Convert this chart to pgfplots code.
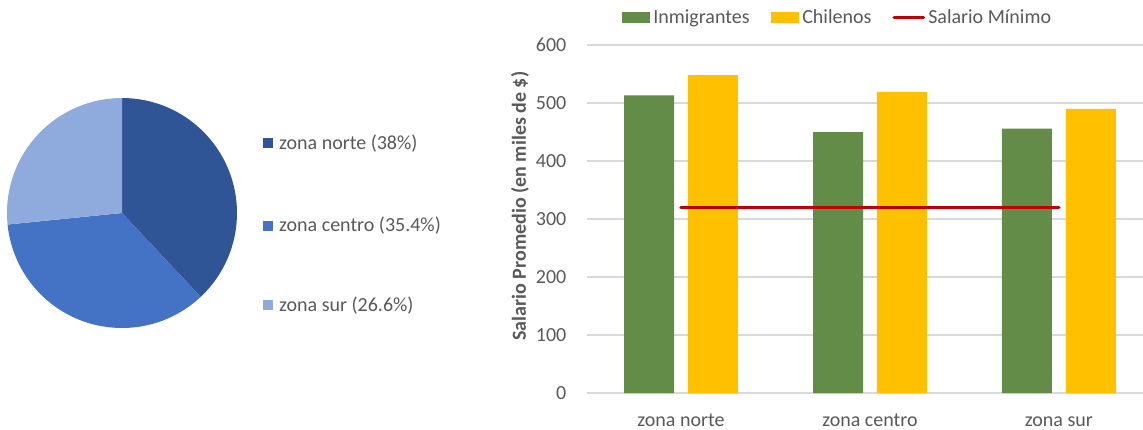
\documentclass[border=0pt]{standalone}
\usepackage{pgfplots}
\pgfplotsset{compat=1.18}
\usepackage{pgfplotstable}
\usepackage{fontspec}
\setmainfont{Carlito}
\definecolor{txt}{HTML}{595959}
\definecolor{gridc}{HTML}{D9D9D9}
\definecolor{inm}{HTML}{638C48}
\definecolor{chi}{HTML}{FFC000}
\definecolor{sal}{HTML}{C00000}
\definecolor{pnorte}{HTML}{2F5597}
\definecolor{pcentro}{HTML}{4472C4}
\definecolor{psur}{HTML}{8FAADC}

\pgfplotstableread{
x inm chi sal
0 513 548 320
1 450 519 320
2 456 490 320
}\salarios

% pie shares (percent)
\def\pnorte{38}
\def\pcentro{35.4}
\def\psur{26.6}

\begin{document}
\begin{tikzpicture}[font=\fontsize{20}{24}\selectfont,text=txt]
\useasboundingbox (0pt,0pt) rectangle (1143pt,-429pt);
\pgfmathsetmacro\aA{90}
\pgfmathsetmacro\aB{90-3.6*\pnorte}
\pgfmathsetmacro\aC{\aB-3.6*\pcentro}
\pgfmathsetmacro\aD{\aC-3.6*\psur}
% ---------- pie ----------
\begin{axis}[at={(122pt,-213pt)}, anchor=center, scale only axis,
  width=230pt, height=230pt, xmin=-115, xmax=115, ymin=-115, ymax=115,
  hide axis, clip=false]
\fill[pnorte] (axis cs:0,0) -- (axis cs:{115*cos(\aA)},{115*sin(\aA)})
   arc[start angle=\aA, end angle=\aB, radius=115pt] -- cycle;
\fill[pcentro] (axis cs:0,0) -- (axis cs:{115*cos(\aB)},{115*sin(\aB)})
   arc[start angle=\aB, end angle=\aC, radius=115pt] -- cycle;
\fill[psur] (axis cs:0,0) -- (axis cs:{115*cos(\aC)},{115*sin(\aC)})
   arc[start angle=\aC, end angle=\aD, radius=115pt] -- cycle;
\end{axis}
% pie legend
\fill[pnorte] (263pt,-138.3pt) rectangle (273pt,-148.3pt);
\node[anchor=base west, inner sep=0pt] at (279pt,-149.3pt) {zona norte (38\%)};
\fill[pcentro] (263pt,-220.5pt) rectangle (273pt,-230.5pt);
\node[anchor=base west, inner sep=0pt] at (279pt,-231.5pt) {zona centro (35.4\%)};
\fill[psur] (263pt,-300pt) rectangle (273pt,-310pt);
\node[anchor=base west, inner sep=0pt] at (279pt,-311pt) {zona sur (26.6\%)};
% ---------- bars ----------
\begin{axis}[at={(586.5pt,-393pt)}, anchor=south west, scale only axis,
  width=556.5pt, height=348pt,
  xmin=-0.5, xmax=2.445, ymin=0, ymax=600,
  ytick={0,100,...,600}, xtick={0,1,2},
  xticklabels={zona norte, zona centro, zona sur},
  ymajorgrids, grid style={gridc, line width=1.2pt},
  axis line style={draw=none}, major tick length=0pt,
  /pgf/number format/assume math mode=true,
  yticklabel style={anchor=east, inner sep=0pt, xshift=-20pt},
  xticklabel style={anchor=base, inner sep=0pt, yshift=-33pt},
  ylabel={\bfseries Salario Promedio (en miles de \$)},
  ylabel style={at={(axis description cs:-0.1195,0.537)}, anchor=center},
  legend style={at={(axis description cs:0.449,1.0790)}, anchor=center,
    draw=none, fill=none, legend columns=3,
    /tikz/every even column/.append style={column sep=21pt},
    /tikz/every odd column/.append style={column sep=3pt},
    nodes={inner sep=0pt, text=txt}},
  clip=false]
\addplot[ybar, bar width=0.2646, bar shift=-0.169, fill=inm, draw=none,
  legend image code/.code={\fill[inm] (0pt,-5.75pt) rectangle (28.7pt,5.75pt);}]
  table[x=x,y=inm]{\salarios};
\addlegendentry{Inmigrantes}
\addplot[ybar, bar width=0.2646, bar shift=0.169, fill=chi, draw=none,
  legend image code/.code={\fill[chi] (0pt,-5.75pt) rectangle (28.7pt,5.75pt);}]
  table[x=x,y=chi]{\salarios};
\addlegendentry{Chilenos}
\addplot[sal, line width=3.3pt, line cap=round, mark=none,
  legend image code/.code={\draw[sal, line width=3.3pt] (0pt,0pt) -- (29.5pt,0pt);}]
  table[x=x,y=sal]{\salarios};
\addlegendentry{Salario Mínimo}
\end{axis}
\end{tikzpicture}
\end{document}
